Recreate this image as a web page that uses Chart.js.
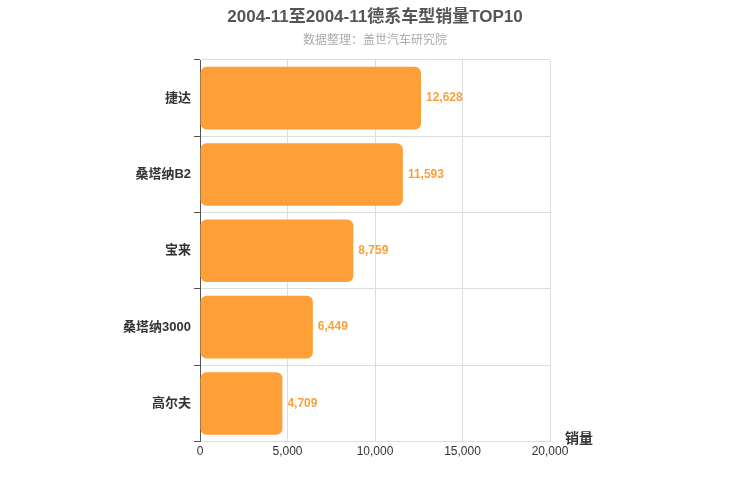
<!DOCTYPE html>
<html>
<head>
<meta charset="utf-8">
<script src="https://cdn.jsdelivr.net/npm/chart.js@4"></script>
<style>body{margin:0;background:#fff}#wrap{width:750px;height:500px}</style>
</head>
<body>
<div id="wrap"><canvas id="c"></canvas></div>
<script>
'use strict';
var categories = ['捷达', '桑塔纳B2', '宝来', '桑塔纳3000', '高尔夫'];
var sales = [12628, 11593, 8759, 6449, 4709];
var xTicks = [0, 5000, 10000, 15000, 20000];
var font = '"Liberation Sans", "Noto Sans CJK SC", sans-serif';

var extras = {
  id: 'extras',
  afterDatasetsDraw: function (chart) {
    var ctx = chart.ctx;
    var meta = chart.getDatasetMeta(0);
    ctx.save();
    ctx.font = 'bold 12px ' + font;
    ctx.fillStyle = '#f7a13c';
    ctx.textBaseline = 'middle';
    meta.data.forEach(function (bar, i) {
      ctx.fillText(sales[i].toLocaleString('en-US'), bar.x + 5, bar.y);
    });
    ctx.fillStyle = '#333';
    ctx.font = 'bold 14px ' + font;
    ctx.fillText('销量', 565, 439);
    // title and subtitle, centred on the page
    ctx.textAlign = 'center';
    ctx.fillStyle = '#555';
    ctx.font = 'bold 17px ' + font;
    ctx.fillText('2004-11至2004-11德系车型销量TOP10', 375, 17);
    ctx.fillStyle = '#aaa';
    ctx.font = '12px ' + font;
    ctx.fillText('数据整理：盖世汽车研究院', 375, 41);
    ctx.restore();
  }
};

new Chart(document.getElementById('c'), {
  type: 'bar',
  data: {
    labels: categories,
    datasets: [{
      data: sales,
      backgroundColor: '#ff9f38',
      borderRadius: 6,
      borderSkipped: false,
      categoryPercentage: 0.82,
      barPercentage: 1
    }]
  },
  options: {
    indexAxis: 'y',
    responsive: true,
    maintainAspectRatio: false,
    animation: false,
    layout: { padding: { left: 0, right: 200, top: 60, bottom: 38 } },
    plugins: {
      legend: { display: false },
      tooltip: { enabled: false }
    },
    scales: {
      x: {
        min: 0, max: 20000,
        afterBuildTicks: function (s) { s.ticks = xTicks.map(function (v) { return { value: v }; }); },
        ticks: { color: '#333', font: { family: font, size: 12 }, callback: function (v) { return v.toLocaleString('en-US'); } },
        grid: { color: '#ddd', drawTicks: false },
        border: { display: false }
      },
      y: {
        afterFit: function (s) { s.width = 200; },
        ticks: { color: '#333', font: { family: font, size: 13, weight: 'bold' } },
        grid: { offset: true, color: '#ddd', tickColor: '#555', tickLength: 6 },
        border: { color: '#555' }
      }
    }
  },
  plugins: [extras]
});
</script>
</body>
</html>
